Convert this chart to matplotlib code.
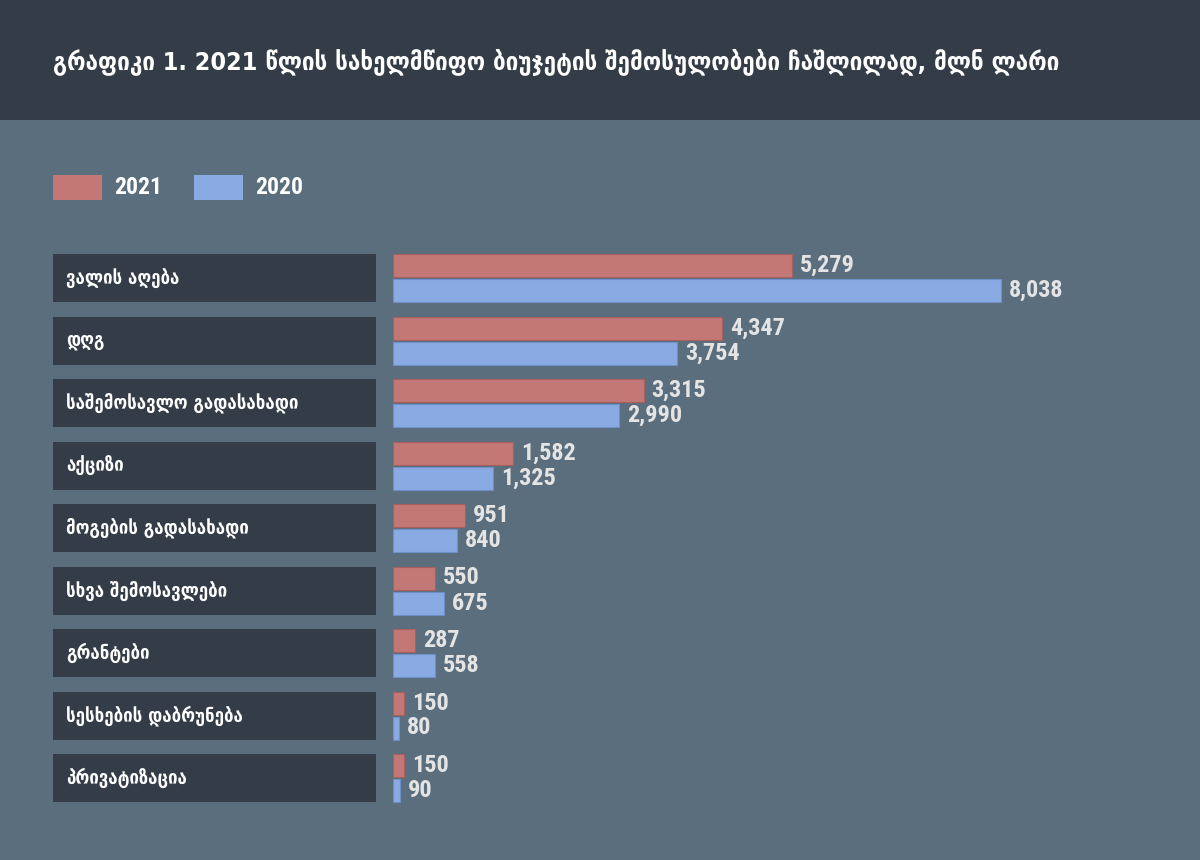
import matplotlib
matplotlib.use("Agg")
import matplotlib.pyplot as plt
from matplotlib import font_manager as fm
from matplotlib.ft2font import FT2Font
from matplotlib.patches import Rectangle
from matplotlib.transforms import blended_transform_factory

# ---------------- data ----------------
title = "გრაფიკი 1. 2021 წლის სახელმწიფო ბიუჯეტის შემოსულობები ჩაშლილად, მლნ ლარი"
categories = [
    "ვალის აღება",
    "დღგ",
    "საშემოსავლო გადასახადი",
    "აქციზი",
    "მოგების გადასახადი",
    "სხვა შემოსავლები",
    "გრანტები",
    "სესხების დაბრუნება",
    "პრივატიზაცია",
]
values_2021 = [5279, 4347, 3315, 1582, 951, 550, 287, 150, 150]
values_2020 = [8038, 3754, 2990, 1325, 840, 675, 558, 80, 90]
series_names = ["2021", "2020"]

# ---------------- fonts ----------------
def pick(preds):
    for pred in preds:
        for f in fm.fontManager.ttflist:
            try:
                if pred(f):
                    return f.fname
            except Exception:
                pass
    return None

def isbold(f):
    w = f.weight
    if isinstance(w, str):
        return w in ("bold", "heavy", "black", "semibold", "demibold", "extra bold", "ultrabold")
    return w >= 600

geo_fname = pick([
    lambda f: f.fname.endswith("DejaVuSansCondensed-Bold.ttf"),
    lambda f: f.fname.endswith("DejaVuSans-Bold.ttf"),
])
num_fname = pick([
    lambda f: "Narrow" in f.name and "Liberation" in f.name and isbold(f) and f.style == "normal",
    lambda f: "LiberationSansNarrow-Bold" in f.fname,
    lambda f: "Roboto" in f.name and "Condensed" in f.name and isbold(f) and f.style == "normal",
    lambda f: "RobotoCondensed-Bold" in f.fname,
    lambda f: "Condensed" in f.name and "Open Sans" in f.name and isbold(f) and f.style == "normal",
    lambda f: f.fname.endswith("DejaVuSansCondensed-Bold.ttf"),
    lambda f: f.fname.endswith("DejaVuSans-Bold.ttf"),
])
narrow_ok = num_fname is not None and ("Narrow" in num_fname or "Roboto" in num_fname
                                       or "OpenSans" in num_fname.replace(" ", ""))

use_mtavruli = False
if geo_fname:
    try:
        ft = FT2Font(geo_fname)
        use_mtavruli = ft.get_char_index(0x1C90) != 0
    except Exception:
        use_mtavruli = False

def geo(s):
    return s.upper() if use_mtavruli else s

def fp(fname, size):
    if fname:
        return fm.FontProperties(fname=fname, size=size)
    return fm.FontProperties(family="DejaVu Sans", weight="bold", size=size)

num_size = 17.5 if narrow_ok else 14
leg_size = 17 if narrow_ok else 13.5

# ---------------- colours ----------------
bg = "#5b6e7d"
dark = "#343d47"
red = "#c47876"
blue = "#8aaae4"
txt = "#e4e4e4"

W, H = 1200, 860
fig = plt.figure(figsize=(W / 100, H / 100), dpi=100, facecolor=bg)

# title band
fig.patches.append(Rectangle((0, 1 - 120 / H), 1, 120 / H, transform=fig.transFigure,
                             facecolor=dark, edgecolor="none", zorder=0))
fig.text(53 / W, 1 - 62 / H, geo(title), fontproperties=fp(geo_fname, 18),
         color="white", ha="left", va="center")

# legend
for i, (name, col) in enumerate(zip(series_names, [red, blue])):
    x0 = [53, 194][i]
    fig.patches.append(Rectangle((x0 / W, 1 - 200 / H), 49 / W, 25 / H,
                                 transform=fig.transFigure, facecolor=col,
                                 edgecolor="none"))
    fig.text((x0 + 61) / W, 1 - 188 / H, name, fontproperties=fp(num_fname, leg_size),
             color="white", ha="left", va="center")

# bar axes
px_per_unit = 608 / 8038
ax_left_px = 393
top_px = 278 - 0.9 * 62.5
bot_px = 278 + 8.9 * 62.5
ax = fig.add_axes([ax_left_px / W, 1 - bot_px / H, (W - ax_left_px) / W, (bot_px - top_px) / H])
ax.set_facecolor("none")
ax.set_xlim(0, (W - ax_left_px) / px_per_unit)
ax.set_ylim(8.9, -0.9)
ax.axis("off")

n = len(categories)
ys = list(range(n))
bh = 23 / 62.5
off = 12.5 / 62.5
ax.barh([y - off for y in ys], values_2021, height=bh, color=red,
        edgecolor="#a8605e", linewidth=0.8)
ax.barh([y + off for y in ys], values_2020, height=bh, color=blue,
        edgecolor="#6f8fc8", linewidth=0.8)

gap = 8 / px_per_unit
for y, v in zip(ys, values_2021):
    ax.text(v + gap, y - off, f"{v:,}", fontproperties=fp(num_fname, num_size),
            color=txt, ha="left", va="center")
for y, v in zip(ys, values_2020):
    ax.text(v + gap, y + off, f"{v:,}", fontproperties=fp(num_fname, num_size),
            color=txt, ha="left", va="center")

# category label boxes
tr = blended_transform_factory(fig.transFigure, ax.transData)
box_h = 48 / 62.5
for y, cat in zip(ys, categories):
    ax.add_patch(Rectangle((53 / W, y - box_h / 2), 323 / W, box_h, transform=tr,
                           facecolor=dark, edgecolor="none", clip_on=False))
    ax.text(66 / W, y, geo(cat), transform=tr, fontproperties=fp(geo_fname, 13.5),
            color="white", ha="left", va="center", clip_on=False)

fig.savefig("out.png", dpi=100, facecolor=bg)
